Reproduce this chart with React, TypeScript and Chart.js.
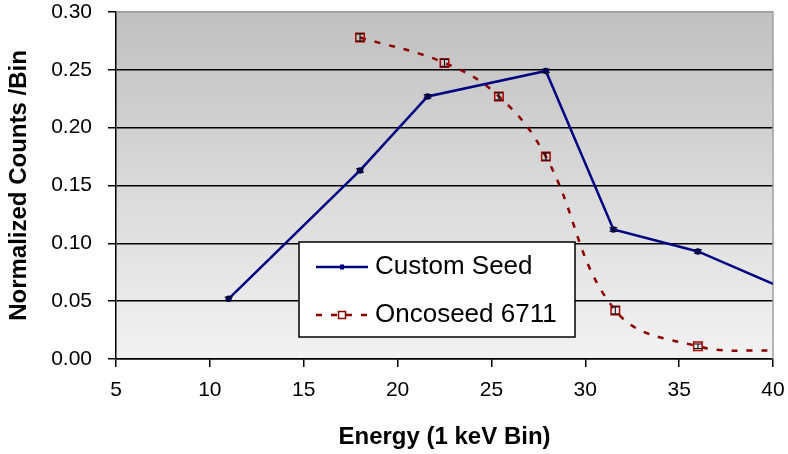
import React, { useEffect, useRef } from "react";
import { Chart, registerables } from "chart.js";

Chart.register(...registerables);

// ---- data ----
const customEnergy = [11, 18, 21.6, 27.9, 31.5, 36, 40];
const customCounts = [0.052, 0.163, 0.227, 0.249, 0.112, 0.093, 0.065];
const customErr = [0.0015, 0.0015, 0.0015, 0.0015, 0.0015, 0.0015, 0];

const oncoEnergy = [18, 22.5, 25.4, 27.9, 31.6, 36, 40];
const oncoCounts = [0.278, 0.256, 0.227, 0.175, 0.042, 0.011, 0.007];
const oncoErr = [0.003, 0.003, 0.003, 0.003, 0.003, 0.002, 0];

const xTickValues = [5, 10, 15, 20, 25, 30, 35, 40];
const yTickValues = [0, 0.05, 0.1, 0.15, 0.2, 0.25, 0.3];

const seriesNames = ["Custom Seed", "Oncoseed 6711"];
const xTitle = "Energy (1 keV Bin)";
const yTitle = "Normalized Counts /Bin";

const FONT = "'Liberation Sans', Arial, sans-serif";
const BLUE = "#000080";
const RED = "#8b0000";

const bgPlugin = {
  id: "bgPlugin",
  beforeDraw(chart: any) {
    const { ctx, chartArea: a } = chart;
    const g = ctx.createLinearGradient(0, a.top, 0, a.bottom);
    g.addColorStop(0, "#c0c0c0");
    g.addColorStop(1, "#f2f2f2");
    ctx.save();
    ctx.fillStyle = g;
    ctx.fillRect(a.left, a.top, a.right - a.left, a.bottom - a.top);
    ctx.restore();
  },
  beforeDatasetsDraw(chart: any) {
    const { ctx, chartArea: a } = chart;
    ctx.save();
    ctx.strokeStyle = "#a0a0a0";
    ctx.lineWidth = 1.5;
    ctx.beginPath();
    ctx.moveTo(a.left, a.top);
    ctx.lineTo(a.right, a.top);
    ctx.lineTo(a.right, a.bottom);
    ctx.stroke();
    ctx.restore();
  },
};

const errorBarPlugin = {
  id: "errorBars",
  afterDatasetsDraw(chart: any) {
    const { ctx } = chart;
    const yScale = chart.scales.y;
    ctx.save();
    chart.data.datasets.forEach((ds: any, di: number) => {
      const meta = chart.getDatasetMeta(di);
      const errs: number[] = ds.errors || [];
      meta.data.forEach((el: any, i: number) => {
        const e = errs[i];
        if (!e) return;
        const v = ds.data[i].y;
        const y1 = yScale.getPixelForValue(v + e);
        const y2 = yScale.getPixelForValue(v - e);
        ctx.strokeStyle = "#000";
        ctx.lineWidth = 1;
        ctx.beginPath();
        ctx.moveTo(el.x, y1);
        ctx.lineTo(el.x, y2);
        ctx.moveTo(el.x - 4, y1);
        ctx.lineTo(el.x + 4, y1);
        ctx.moveTo(el.x - 4, y2);
        ctx.lineTo(el.x + 4, y2);
        ctx.stroke();
      });
    });
    ctx.restore();
  },
};

const legendPlugin = {
  id: "boxLegend",
  afterDraw(chart: any) {
    const { ctx, chartArea: a } = chart;
    const bx = a.left + 183;
    const by = a.top + 230;
    const bw = 276;
    const bh = 95;
    ctx.save();
    ctx.fillStyle = "#fff";
    ctx.fillRect(bx, by, bw, bh);
    ctx.strokeStyle = "#000";
    ctx.lineWidth = 1.5;
    ctx.strokeRect(bx, by, bw, bh);

    const x0 = bx + 17;
    const x1 = bx + 69;
    const xm = (x0 + x1) / 2;
    const y1 = by + 25;
    const y2 = by + 73;

    // blue
    ctx.strokeStyle = BLUE;
    ctx.lineWidth = 2.5;
    ctx.beginPath();
    ctx.moveTo(x0, y1);
    ctx.lineTo(x1, y1);
    ctx.stroke();
    ctx.fillStyle = BLUE;
    ctx.fillRect(xm - 2, y1 - 2.5, 4, 5);

    // red dashed
    ctx.strokeStyle = RED;
    ctx.lineWidth = 2.5;
    ctx.setLineDash([6, 9]);
    ctx.beginPath();
    ctx.moveTo(x0, y2);
    ctx.lineTo(x1, y2);
    ctx.stroke();
    ctx.setLineDash([]);
    ctx.fillStyle = "#fff";
    ctx.fillRect(xm - 3.5, y2 - 3.5, 7, 7);
    ctx.lineWidth = 1.5;
    ctx.strokeRect(xm - 3.5, y2 - 3.5, 7, 7);

    ctx.fillStyle = "#000";
    ctx.font = `26px ${FONT}`;
    ctx.textBaseline = "middle";
    ctx.textAlign = "left";
    ctx.fillText(seriesNames[0], bx + 76, y1);
    ctx.fillText(seriesNames[1], bx + 76, y2);
    ctx.restore();
  },
};

export default function App() {
  const ref = useRef<HTMLCanvasElement>(null);
  useEffect(() => {
    if (!ref.current) return;
    const chart = new Chart(ref.current, {
      type: "line",
      data: {
        datasets: [
          {
            label: seriesNames[0],
            data: customEnergy.map((x, i) => ({ x, y: customCounts[i] })),
            errors: customErr,
            borderColor: BLUE,
            backgroundColor: BLUE,
            borderWidth: 2.5,
            pointRadius: customEnergy.map((_, i) => (i === customEnergy.length - 1 ? 0 : 2)),
            pointStyle: "circle",
            tension: 0,
            fill: false,
          } as any,
          {
            label: seriesNames[1],
            data: oncoEnergy.map((x, i) => ({ x, y: oncoCounts[i] })),
            errors: oncoErr,
            borderColor: RED,
            backgroundColor: "rgba(0,0,0,0)",
            borderWidth: 2.5,
            borderDash: [6, 9],
            pointRadius: oncoEnergy.map((_, i) => (i === oncoEnergy.length - 1 ? 0 : 6)),
            pointBorderColor: "#b00000",
            pointBorderWidth: 1.5,
            pointBackgroundColor: "rgba(0,0,0,0)",
            pointStyle: "rect",
            tension: 0.4,
            fill: false,
          } as any,
        ],
      },
      options: {
        animation: false,
        responsive: false,
        layout: { padding: { left: 0, right: 15, top: 12, bottom: 2 } },
        plugins: {
          legend: { display: false },
          tooltip: { enabled: false },
        },
        scales: {
          x: {
            type: "linear",
            min: 5,
            max: 40,
            afterBuildTicks: (s: any) => {
              s.ticks = xTickValues.map((v) => ({ value: v }));
            },
            afterFit: (s: any) => {
              s.height = 93;
              s.paddingLeft = 0;
              s.paddingRight = 0;
            },
            ticks: {
              color: "#000",
              font: { family: FONT, size: 21 },
              padding: 11,
              maxRotation: 0,
              callback: (v: any) => String(v),
            },
            grid: {
              drawOnChartArea: false,
              tickLength: 8,
              color: "#000",
              lineWidth: 1.5,
            },
            border: { display: true, color: "#000", width: 1.5 },
            title: {
              display: true,
              text: xTitle,
              color: "#000",
              font: { family: FONT, size: 24, weight: "bold" },
              padding: { top: 0, bottom: 0 },
            },
          },
          y: {
            type: "linear",
            min: 0,
            max: 0.3,
            afterBuildTicks: (s: any) => {
              s.ticks = yTickValues.map((v) => ({ value: v }));
            },
            afterFit: (s: any) => {
              s.width = 116;
              s.paddingTop = 0;
              s.paddingBottom = 0;
            },
            ticks: {
              color: "#000",
              font: { family: FONT, size: 21 },
              padding: 16,
              callback: (v: any) => Number(v).toFixed(2),
            },
            grid: {
              drawOnChartArea: true,
              tickLength: 8,
              color: (c: any) => (c.tick && Math.abs(c.tick.value - 0.3) < 1e-9 ? "#a0a0a0" : "#000"),
              tickColor: "#000",
              lineWidth: 1.5,
            },
            border: { display: true, color: "#000", width: 1.5 },
            title: {
              display: true,
              text: yTitle,
              color: "#000",
              font: { family: FONT, size: 24, weight: "bold" },
              padding: { top: 5, bottom: 0 },
            },
          },
        },
      } as any,
      plugins: [bgPlugin, errorBarPlugin, legendPlugin],
    });
    return () => chart.destroy();
  }, []);

  return (
    <div style={{ position: "fixed", left: 0, top: 0, width: 788, height: 454, background: "#fff" }}>
      <canvas ref={ref} width={788} height={454} style={{ display: "block" }} />
    </div>
  );
}
